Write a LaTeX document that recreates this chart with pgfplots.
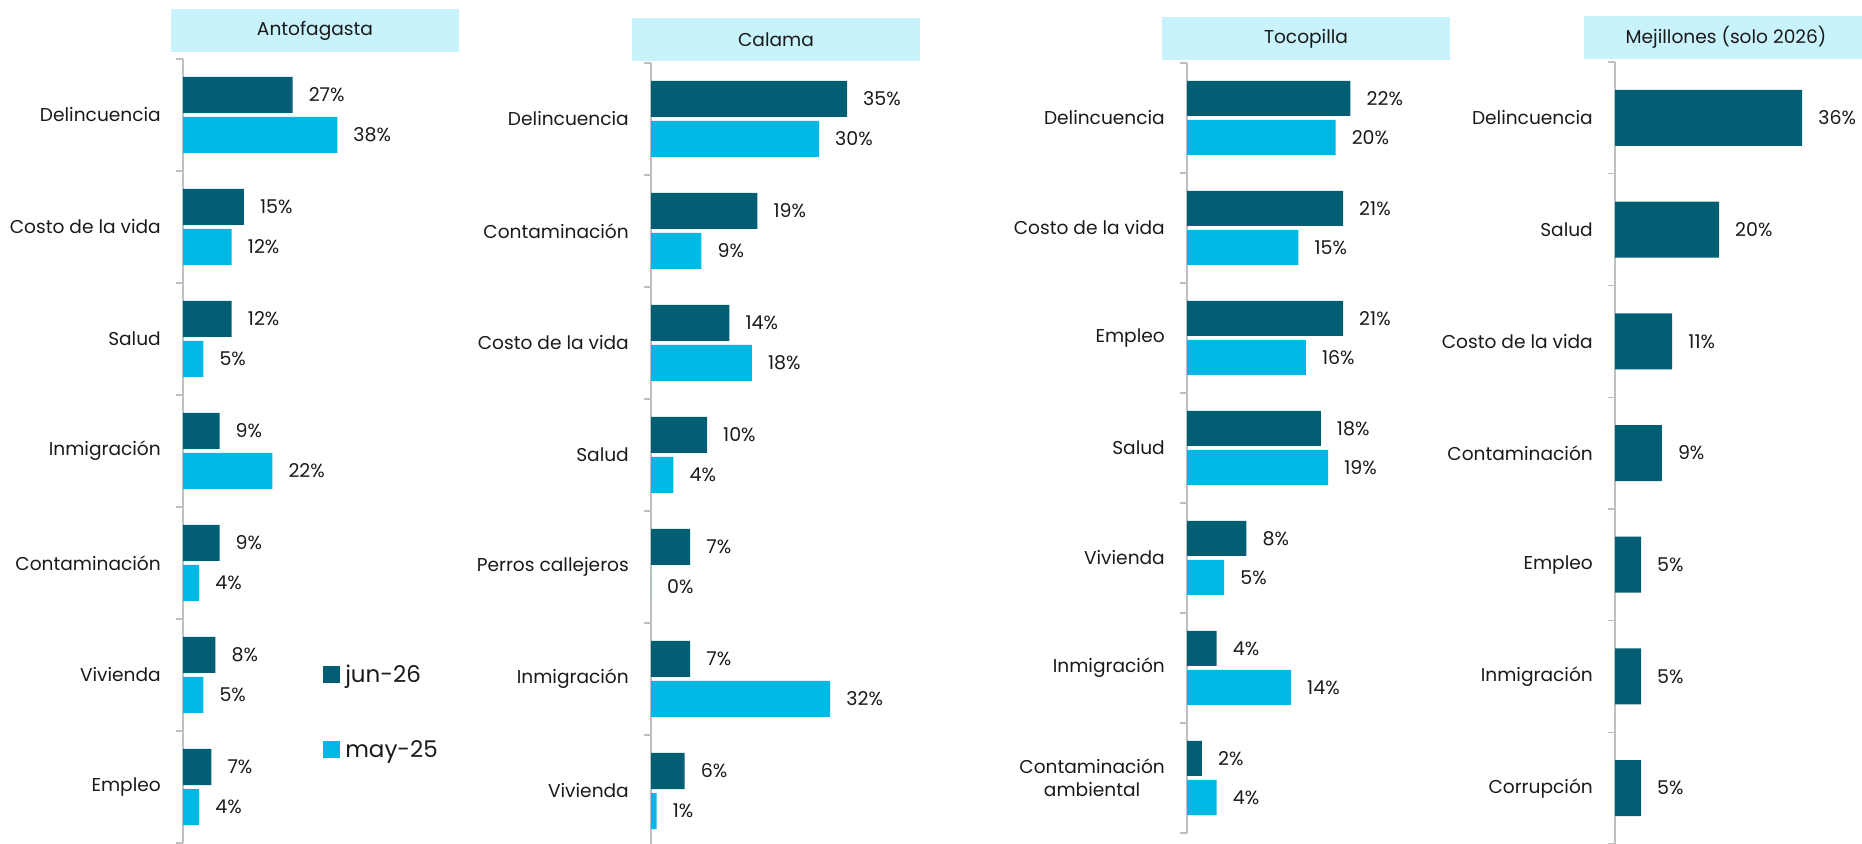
\documentclass[border=0pt]{standalone}
\usepackage{pgfplots}
\pgfplotsset{compat=1.18}
\usepackage{fontspec}
\setmainfont{Poppins}
\definecolor{dark}{HTML}{025E73}
\definecolor{light}{HTML}{00B8E6}
\definecolor{head}{HTML}{C8F2FC}
\definecolor{axgray}{HTML}{BFBFBF}
\definecolor{txt}{HTML}{1A1A1A}
\newcommand\lblfont{\fontsize{18.6}{23}\selectfont}
\newcommand\valfont{\fontsize{19}{23}\selectfont}
\pgfplotsset{
  panel/.style={
    xbar,
    ymin=-0.5, ymax=6.5,
    xmin=0,
    axis x line=none,
    axis y line*=left,
    axis line style={axgray, line width=1.3pt},
    ytick={0,...,6},
    minor ytick={-0.5,0.5,...,6.5},
    major tick length=0pt,
    minor tick length=7pt,
    tick align=outside,
    minor tick style={axgray, line width=1.3pt},
    yticklabel style={font=\lblfont, text=txt, inner sep=0pt, xshift=-22pt, align=center},
    clip=false,
    point meta=x,
    nodes near coords={\pgfmathprintnumber{\pgfplotspointmeta}\%},
    nodes near coords style={font=\valfont, text=txt, anchor=west, inner sep=0pt, xshift=16pt},
    /pgf/number format/assume math mode=true,
    anchor=south west,
  },
  darkbar/.style={fill=dark, draw=none, bar width=#1},
  lightbar/.style={fill=light, draw=none, bar width=#1},
}
\begin{document}
\begin{tikzpicture}
\path[use as bounding box] (0pt,0pt) rectangle (1862pt,843pt);
% headers
\fill[head] (171pt,791pt) rectangle (459pt,834pt);
\node[font=\lblfont, text=txt] at (315pt,812.5pt) {Antofagasta};
\fill[head] (632pt,782pt) rectangle (920pt,825pt);
\node[font=\lblfont, text=txt] at (776pt,803.5pt) {Calama};
\fill[head] (1162pt,783pt) rectangle (1450pt,826pt);
\node[font=\lblfont, text=txt] at (1306pt,804.5pt) {Tocopilla};
\fill[head] (1584pt,784pt) rectangle (1862pt,827pt);
\node[font=\lblfont, text=txt] at (1726pt,805.5pt) {Mejillones (solo 2026)};

% Antofagasta
\begin{axis}[panel, x=4.06pt, y=112pt, xmax=60, at={(183pt,0pt)},
  yticklabels={Empleo, Vivienda, Contaminación, Inmigración, Salud, Costo de la vida, Delincuencia},
  legend style={at={(0.575,0.227)}, anchor=north west, draw=none, fill=none,
    font=\fontsize{23}{27}\selectfont, text=txt, inner sep=0pt, row sep=56pt,
    nodes={inner sep=0pt}, column sep=5pt},
  legend cell align=left]
\addplot[darkbar=36pt, bar shift=20pt,
  legend image code/.code={\fill[dark] (0pt,-8.5pt) rectangle (17pt,8.5pt);}]
  coordinates {(27,6) (15,5) (12,4) (9,3) (9,2) (8,1) (7,0)};
\addlegendentry{jun-26}
\addplot[lightbar=36pt, bar shift=-20pt,
  legend image code/.code={\fill[light] (0pt,-8.5pt) rectangle (17pt,8.5pt);}]
  coordinates {(38,6) (12,5) (5,4) (22,3) (4,2) (5,1) (4,0)};
\addlegendentry{may-25}
\end{axis}

% Calama
\begin{axis}[panel, x=5.6pt, y=112pt, xmax=45, at={(651pt,-4pt)},
  yticklabels={Vivienda, Inmigración, Perros callejeros, Salud, Costo de la vida, Contaminación, Delincuencia}]
\addplot[darkbar=36pt, bar shift=20pt]
  coordinates {(35,6) (19,5) (14,4) (10,3) (7,2) (7,1) (6,0)};
\addplot[lightbar=36pt, bar shift=-20pt]
  coordinates {(30,6) (9,5) (18,4) (4,3) (0,2) (32,1) (1,0)};
\end{axis}

% Tocopilla
\begin{axis}[panel, x=7.43pt, y=110pt, xmax=30, at={(1187pt,10pt)},
  yticklabels={{Contaminación\\ambiental}, Inmigración, Vivienda, Salud, Empleo, Costo de la vida, Delincuencia}]
\addplot[darkbar=35pt, bar shift=19.5pt]
  coordinates {(22,6) (21,5) (21,4) (18,3) (8,2) (4,1) (2,0)};
\addplot[lightbar=35pt, bar shift=-19.5pt]
  coordinates {(20,6) (15,5) (16,4) (19,3) (5,2) (14,1) (4,0)};
\end{axis}

% Mejillones
\begin{axis}[panel, x=5.2pt, y=111.7pt, xmax=45, at={(1615pt,-1pt)},
  yticklabels={Corrupción, Inmigración, Empleo, Contaminación, Costo de la vida, Salud, Delincuencia}]
\addplot[darkbar=56pt, bar shift=0pt]
  coordinates {(36,6) (20,5) (11,4) (9,3) (5,2) (5,1) (5,0)};
\end{axis}
\end{tikzpicture}
\end{document}
